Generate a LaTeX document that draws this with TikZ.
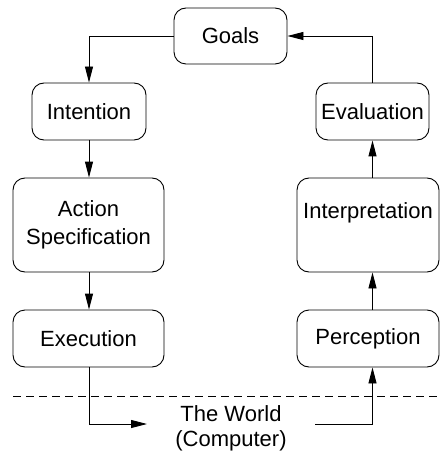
\documentclass[tikz,border=0pt]{standalone}
\usepackage{fontspec}
\setmainfont{Liberation Sans}
\usetikzlibrary{arrows.meta}
\begin{document}
\begin{tikzpicture}[x=1pt,y=-1pt,
  box/.style={draw, line width=0.9pt, rounded corners=12pt, align=center, inner sep=0pt,
    font=\fontsize{22}{28}\selectfont},
  conn/.style={line width=0.9pt, -{Triangle[length=16pt,width=8pt]}},
  plain/.style={line width=0.9pt}]
\useasboundingbox (0,0) rectangle (440,457);
\node[box, minimum width=113pt, minimum height=56pt] (goals) at (230.5,36) {Goals};
\node[box, minimum width=114pt, minimum height=57pt] (intent) at (89,111.5) {Intention};
\node[box, minimum width=113pt, minimum height=57pt] (eval) at (372.5,111.5) {Evaluation};
\node[box, minimum width=151pt, minimum height=94pt] (action) at (88.5,225) {Action\\Specification};
\node[box, minimum width=142pt, minimum height=94pt] (interp) at (368,225) {Interpretation\\\mbox{}};
\node[box, minimum width=151pt, minimum height=57pt] (exec) at (88.5,338.5) {Execution};
\node[box, minimum width=142pt, minimum height=57pt] (perc) at (368,338.5) {Perception};
\node[align=center, font=\fontsize{22}{25}\selectfont, inner sep=0pt] (world) at (231,428) {The World\\(Computer)};
\coordinate (w1) at (147,424);
\coordinate (w2) at (315,424);
\coordinate (d1) at (13,396);
\coordinate (d2) at (440,396);
\draw[plain, dash pattern=on 8pt off 5pt] (d1) -- (d2);
\draw[conn] (goals.west) -| (intent.north);
\draw[conn] (intent.south) -- (action.north -| intent.south);
\draw[conn] (action.south -| intent.south) -- (exec.north -| intent.south);
\draw[conn] (exec.south -| intent.south) |- (w1);
\draw[conn] (w2) -| (perc.south -| eval.south);
\draw[conn] (perc.north -| eval.south) -- (interp.south -| eval.south);
\draw[conn] (interp.north -| eval.south) -- (eval.south);
\draw[conn] (eval.north) |- (goals.east);
\end{tikzpicture}
\end{document}
